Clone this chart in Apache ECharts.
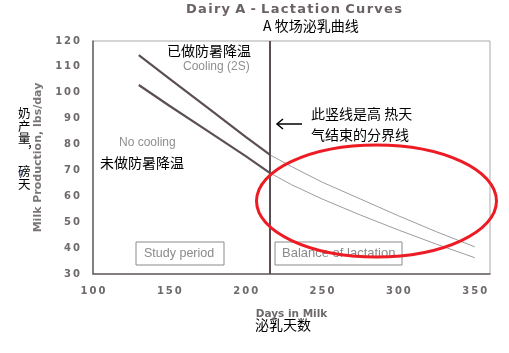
<!DOCTYPE html>
<html>
<head>
<meta charset="utf-8">
<script src="https://cdn.jsdelivr.net/npm/echarts@6/dist/echarts.min.js"></script>
<style>html,body{margin:0;padding:0;background:#fff;}#c{width:509px;height:353px;}</style>
</head>
<body>
<div id="c"></div>
<script>
// Data
const studyDays = [130, 150, 175, 200, 216];
const coolingStudy = [114.5, 105.5, 94.3, 83, 76];
const noCoolingStudy = [103, 95, 85.3, 75.5, 69];
const balanceDays = [216, 230, 250, 275, 300, 325, 350];
const coolingBalance = [76, 71.5, 65.5, 59, 52.5, 46.3, 40.5];
const noCoolingBalance = [69, 64.5, 59, 52.8, 47, 41.5, 36.3];
const endOfHeatDay = 216;
const xTicks = [100, 150, 200, 250, 300, 350];
const yTicks = [30, 40, 50, 60, 70, 80, 90, 100, 110, 120];

const spaced = s => String(s).split('').join('\u2009');
const pairs = (xs, ys) => xs.map((x, i) => [x, ys[i]]);

const dark = '#5b4f56';
const light = '#9d9d9d';
const gray = '#6e6a6c';
const cjk = '"Noto Sans CJK SC", sans-serif';

const chart = echarts.init(document.getElementById('c'));
chart.setOption({
  animation: false,
  backgroundColor: '#fff',
  grid: { left: 93, top: 41, width: 397, height: 233, show: true, borderColor: '#a9a9a9', borderWidth: 1 },
  xAxis: {
    type: 'value', min: 100, max: 360, interval: 50,
    name: 'Days in Milk', nameLocation: 'middle', nameGap: 35,
    nameTextStyle: { color: gray, fontWeight: 'bold', fontSize: 10.5, fontFamily: 'DejaVu Sans' },
    axisLine: { show: true, lineStyle: { color: '#6a6166', width: 1.5 } },
    axisTick: { show: false }, splitLine: { show: false },
    axisLabel: {
      color: gray, fontWeight: 'bold', fontSize: 10, fontFamily: 'DejaVu Sans', margin: 12,
      formatter: v => xTicks.includes(v) ? spaced(v) : ''
    }
  },
  yAxis: {
    type: 'value', min: 30, max: 120, interval: 10,
    name: 'Milk Production, lbs/day', nameLocation: 'middle', nameGap: 49, nameRotate: 90,
    nameTextStyle: { color: '#7a7579', fontWeight: 'bold', fontSize: 11, fontFamily: 'DejaVu Sans' },
    axisLine: { show: true, lineStyle: { color: '#6a6166', width: 1.5 } },
    axisTick: { show: false }, splitLine: { show: false },
    axisLabel: {
      color: gray, fontWeight: 'bold', fontSize: 10, fontFamily: 'DejaVu Sans', margin: 13,
      formatter: v => yTicks.includes(v) ? spaced(v) : ''
    }
  },
  series: [
    { name: 'Cooling (2S)', type: 'line', data: pairs(studyDays, coolingStudy), symbol: 'none',
      lineStyle: { color: dark, width: 2.2 }, z: 3,
      markLine: { silent: true, symbol: 'none', label: { show: false },
        lineStyle: { color: dark, width: 2, type: 'solid' }, data: [{ xAxis: endOfHeatDay }] } },
    { name: 'No cooling', type: 'line', data: pairs(studyDays, noCoolingStudy), symbol: 'none',
      lineStyle: { color: dark, width: 2.2 }, z: 3 },
    { name: 'Cooling (2S) balance', type: 'line', data: pairs(balanceDays, coolingBalance), symbol: 'none',
      lineStyle: { color: light, width: 1 }, z: 2 },
    { name: 'No cooling balance', type: 'line', data: pairs(balanceDays, noCoolingBalance), symbol: 'none',
      lineStyle: { color: light, width: 1 }, z: 2 }
  ],
  graphic: [
    { type: 'text', x: 186, y: 3, style: { text: 'Dairy\u2009A\u2009-\u2009Lactation\u2009Curves'.split('').join('\u200A'), fill: '#6b6268', font: 'bold 13px "DejaVu Sans"' } },
    { type: 'text', x: 263, y: 19, style: { text: 'A 牧场泌乳曲线', fill: '#000', font: '14px ' + cjk } },
    { type: 'text', x: 167, y: 44, style: { text: '已做防暑降温', fill: '#000', font: '14px ' + cjk } },
    { type: 'text', x: 183, y: 61, style: { text: 'Cooling (2S)', fill: '#8f8f8f', font: '12px "Liberation Sans"' } },
    { type: 'text', x: 119, y: 137, style: { text: 'No cooling', fill: '#8f8f8f', font: '12px "Liberation Sans"' } },
    { type: 'text', x: 100, y: 156, style: { text: '未做防暑降温', fill: '#000', font: '14px ' + cjk } },
    { type: 'text', x: 311, y: 103, style: { text: '此竖线是高 热天\n气结束的分界线', fill: '#000', font: '14px ' + cjk, lineHeight: 21 } },
    { type: 'line', shape: { x1: 302, y1: 124, x2: 277, y2: 124 }, style: { stroke: '#000', lineWidth: 1.5 } },
    { type: 'polyline', shape: { points: [[283, 119], [277, 124], [283, 129]] }, style: { stroke: '#000', lineWidth: 1.5, fill: null } },
    { type: 'text', x: 18, y: 107, style: { text: '奶\n产\n量', fill: '#000', font: '12.5px ' + cjk, lineHeight: 12.5 } },
    { type: 'text', x: 27, y: 137, style: { text: '，', fill: '#000', font: '12px ' + cjk } },
    { type: 'text', x: 18, y: 164, style: { text: '磅\n天', fill: '#000', font: '12.5px ' + cjk, lineHeight: 13.5 } },
    { type: 'text', x: 20, y: 169, style: { text: '/', fill: '#1a2a6a', font: '11px "DejaVu Sans"' } },
    { type: 'text', x: 255, y: 318, style: { text: '泌乳天数', fill: '#000', font: '14px ' + cjk } },
    { type: 'rect', shape: { x: 136, y: 242, width: 88, height: 23 }, style: { stroke: '#8a8a8a', lineWidth: 1, fill: '#fff' }, z: 5 },
    { type: 'text', x: 144, y: 247, style: { text: 'Study period', fill: '#8a8a8a', font: '12.5px "Liberation Sans"' }, z: 6 },
    { type: 'rect', shape: { x: 275, y: 242, width: 127, height: 23 }, style: { stroke: '#8a8a8a', lineWidth: 1, fill: '#fff' }, z: 5 },
    { type: 'text', x: 282, y: 247, style: { text: 'Balance of lactation', fill: '#8a8a8a', font: '13px "Liberation Sans"' }, z: 6 },
    { type: 'ellipse', shape: { cx: 376.5, cy: 201, rx: 120, ry: 56 }, style: { stroke: '#ec1b24', lineWidth: 3, fill: null }, z: 10 }
  ]
});
</script>
</body>
</html>
